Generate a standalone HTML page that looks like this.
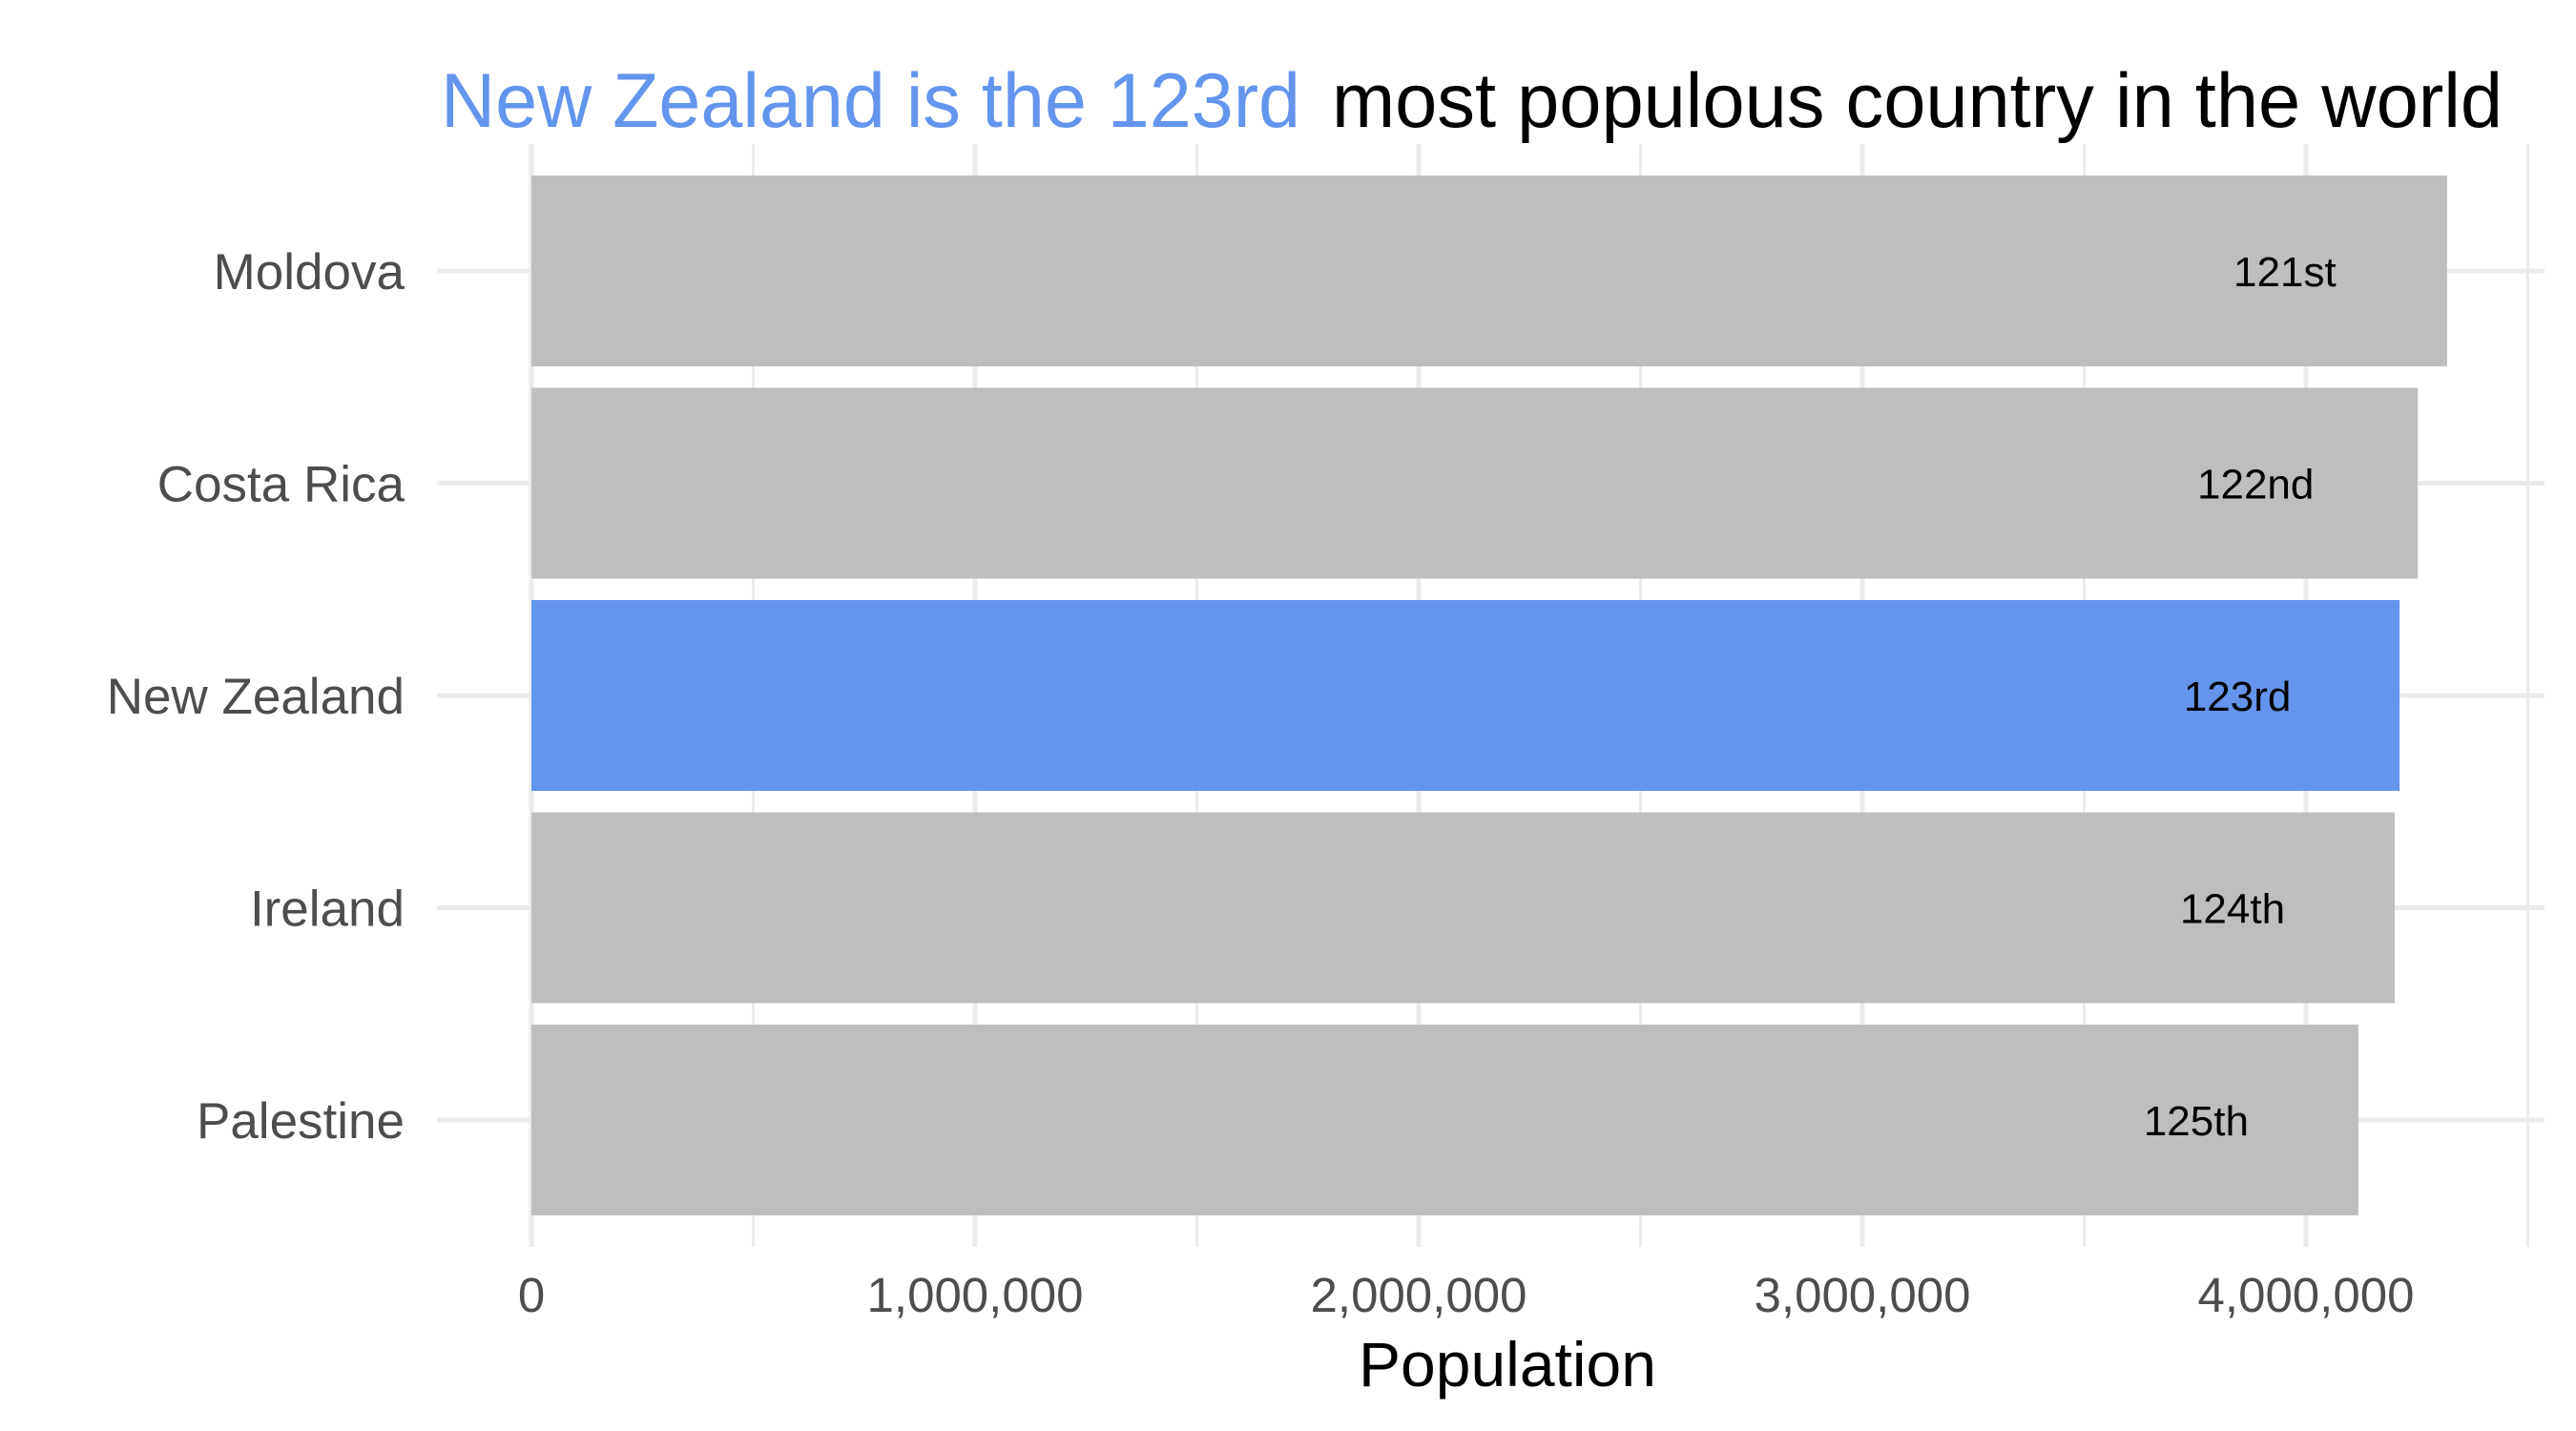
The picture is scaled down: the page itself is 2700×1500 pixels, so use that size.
<!DOCTYPE html>
<html><head><meta charset="utf-8"><style>
html,body{margin:0;padding:0;background:#fff;}
svg{display:block;font-family:"Liberation Sans",Arial,sans-serif;}
</style></head><body>
<svg id="chart" width="2700" height="1500" viewBox="0 0 2700 1500" xmlns="http://www.w3.org/2000/svg">
<rect width="2700" height="1500" fill="#fff"/>
<g id="grid"></g>
<g id="bars"></g>
<g id="labels"></g>
<g id="yaxis"></g>
<g id="xaxis"></g>
<text x="462" y="133" font-size="81" fill="#6495ed" textLength="901" lengthAdjust="spacingAndGlyphs">New Zealand is the 123rd</text>
<text x="1396" y="133" font-size="81" fill="#000" textLength="1227" lengthAdjust="spacingAndGlyphs">most populous country in the world</text>
<text x="1580" y="1453" font-size="66" fill="#000" text-anchor="middle">Population</text>
</svg>
<script>
const countries = ["Moldova","Costa Rica","New Zealand","Ireland","Palestine"];
const populations = [4318000, 4252000, 4211000, 4200000, 4118000];
const ranks = ["121st","122nd","123rd","124th","125th"];
const highlight = ["no","no","yes","no","no"];
const xTicks = [0,1000000,2000000,3000000,4000000];
const xTickLabels = ["0","1,000,000","2,000,000","3,000,000","4,000,000"];
const xMinorTicks = [500000,1500000,2500000,3500000,4500000];

const NS="http://www.w3.org/2000/svg";
const X0=557, PX_PER=465/1000000;
const PANEL_L=458, PANEL_R=2667, PANEL_T=151, PANEL_B=1307;
const ROW0=284, ROW_STEP=222.5, BAR_H=200;
function xs(v){return X0+v*PX_PER;}
function ys(i){return ROW0+i*ROW_STEP;}
function mk(tag,attrs,parent){const e=document.createElementNS(NS,tag);for(const k in attrs)e.setAttribute(k,attrs[k]);parent.appendChild(e);return e;}
const grid=document.getElementById('grid'),bars=document.getElementById('bars'),labels=document.getElementById('labels'),yaxis=document.getElementById('yaxis'),xaxis=document.getElementById('xaxis');
xMinorTicks.forEach(v=>{
  const l=mk('line',{x1:xs(v),x2:xs(v),y1:PANEL_T,y2:PANEL_B,stroke:'#ebebeb','stroke-width':3},grid);
  
  
});
xTicks.forEach((v,i)=>{
  const l=mk('line',{x1:xs(v),x2:xs(v),y1:PANEL_T,y2:PANEL_B,stroke:'#ebebeb','stroke-width':5},grid);
  
  
  const t=mk('text',{x:xs(v),y:1375,'font-size':51,fill:'#4d4d4d','text-anchor':'middle'},xaxis);
  t.textContent=xTickLabels[i];
  
  
});
countries.forEach((c,i)=>{
  const g=mk('line',{x1:PANEL_L,x2:PANEL_R,y1:ys(i),y2:ys(i),stroke:'#ebebeb','stroke-width':5},grid);
  
  
  const b=mk('rect',{x:xs(0),y:ys(i)-BAR_H/2,width:xs(populations[i])-xs(0),height:BAR_H,fill:highlight[i]==='yes'?'#6495ed':'#bebebe'},bars);
  
  
  const t=mk('text',{x:xs(populations[i])-170,y:ys(i)+16,'font-size':44,fill:'#000','text-anchor':'middle'},labels);
  t.textContent=ranks[i];
  
  
  const y=mk('text',{x:424,y:ys(i)+19,'font-size':53,fill:'#4d4d4d','text-anchor':'end'},yaxis);
  y.textContent=c;
  
  
});
</script>
</body></html>
